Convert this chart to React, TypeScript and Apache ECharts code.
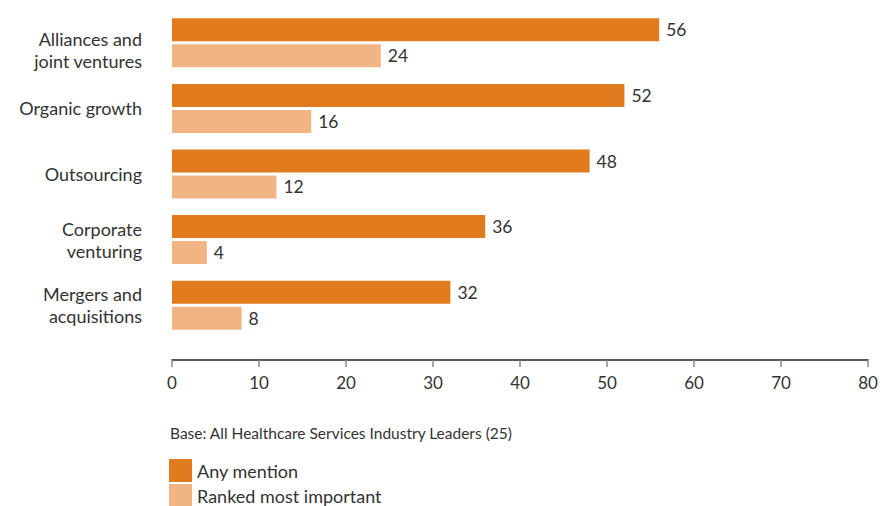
import React, { useEffect, useRef } from "react";
import * as echarts from "echarts";

const categories = [
  "Alliances and\njoint ventures",
  "Organic growth",
  "Outsourcing",
  "Corporate\nventuring",
  "Mergers and\nacquisitions",
];
const anyMention = [56, 52, 48, 36, 32];
const rankedMostImportant = [24, 16, 12, 4, 8];
const seriesNames = ["Any mention", "Ranked most important"];
const baseNote = "Base: All Healthcare Services Industry Leaders (25)";

const DARK = "#E07B1E";
const LIGHT = "#F0B583";
const TEXT = "#333333";
const FONT = "Lato, 'Open Sans', sans-serif";

export default function App() {
  const ref = useRef<HTMLDivElement>(null);
  useEffect(() => {
    if (!ref.current) return;
    const chart = echarts.init(ref.current, undefined, { renderer: "svg" });
    const label = {
      show: true,
      position: "right" as const,
      distance: 7,
      color: TEXT,
      fontSize: 17.5,
      fontFamily: FONT,
    };
    chart.setOption({
      animation: false,
      textStyle: { fontFamily: FONT, color: TEXT },
      grid: { left: 172, right: 15, top: 10, bottom: 168, containLabel: false },
      legend: {
        orient: "vertical",
        left: 169,
        top: 459,
        height: 60,
        itemWidth: 23,
        itemHeight: 23,
        itemGap: 2,
        icon: "rect",
        textStyle: { fontSize: 18, color: TEXT, fontFamily: FONT },
        padding: 0,
        selectedMode: false,
        data: seriesNames,
      },
      graphic: [
        {
          type: "text",
          left: 170,
          top: 425,
          style: { text: baseNote, fontSize: 15.5, fill: TEXT, fontFamily: FONT },
        },
      ],
      xAxis: {
        type: "value",
        min: 0,
        max: 80,
        interval: 10,
        offset: 22,
        axisLine: { show: true, lineStyle: { color: "#222", width: 1.5 } },
        axisTick: { show: true, length: 7, lineStyle: { color: "#888", width: 1.5 } },
        splitLine: { show: false },
        axisLabel: { fontSize: 17, color: TEXT, fontFamily: FONT, margin: 14 },
      },
      yAxis: {
        type: "category",
        inverse: true,
        data: categories,
        axisLine: { show: false },
        axisTick: { show: false },
        axisLabel: {
          fontSize: 18,
          color: TEXT,
          fontFamily: FONT,
          margin: 30,
          align: "right",
          lineHeight: 22,
          formatter: (v: string, i: number) => (i === 0 ? "{s| }\n" + v : v),
          rich: { s: { lineHeight: 14, fontSize: 8 } },
        },
      },
      series: [
        {
          name: seriesNames[0],
          type: "bar",
          data: anyMention,
          itemStyle: { color: DARK },
          barWidth: 23,
          barGap: "13%",
          label,
        },
        {
          name: seriesNames[1],
          type: "bar",
          data: rankedMostImportant,
          itemStyle: { color: LIGHT },
          barWidth: 23,
          barGap: "13%",
          label,
        },
      ],
    });
    return () => chart.dispose();
  }, []);
  return (
    <div
      ref={ref}
      style={{ position: "absolute", left: 0, top: 0, width: 883, height: 506 }}
    />
  );
}
